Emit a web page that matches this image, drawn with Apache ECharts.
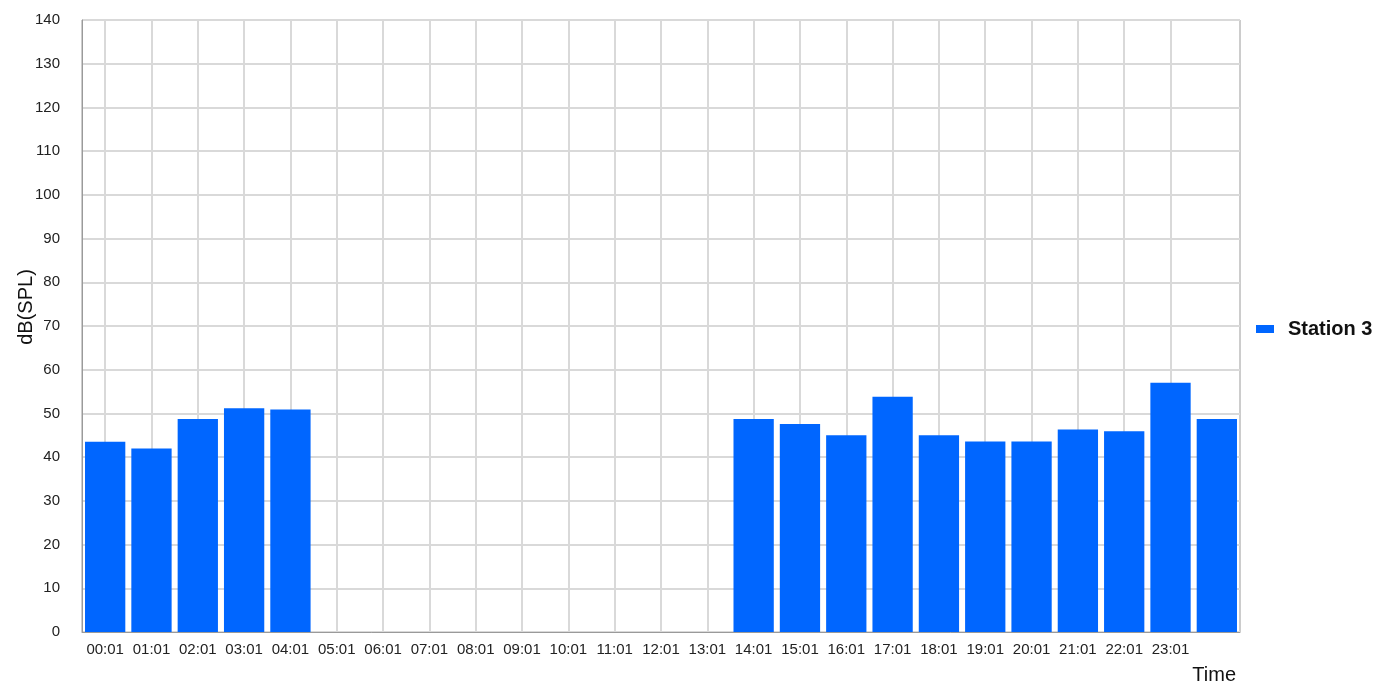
<!DOCTYPE html>
<html>
<head>
<meta charset="utf-8">
<script src="https://cdn.jsdelivr.net/npm/echarts@6/dist/echarts.min.js"></script>
<style>
    html, body { margin: 0; padding: 0; background: #fff; }
    #main { width: 1375px; height: 686px; }
</style>
</head>
<body>
<div id="main"></div>
<script>
// 时间刻度（最后一格没有标签）
var hours = ['00:01', '01:01', '02:01', '03:01', '04:01', '05:01', '06:01', '07:01',
    '08:01', '09:01', '10:01', '11:01', '12:01', '13:01', '14:01', '15:01',
    '16:01', '17:01', '18:01', '19:01', '20:01', '21:01', '22:01', '23:01', '00:01'];
// Station 3 的声压级
var station3 = [43.5, 42.0, 48.7, 51.2, 50.9,
    null, null, null, null, null, null, null, null, null,
    48.7, 47.6, 45.0, 53.8, 45.0, 43.6, 43.6, 46.3, 45.9, 57.0, 48.7];
var yTicks = [0, 140, 10]; // min, max, interval

var font = '"Liberation Sans", Arial, sans-serif';
var chart = echarts.init(document.getElementById('main'));

var option = {
    animation: false,
    textStyle: { fontFamily: font },
    grid: {
        left: 82,
        right: 135,
        top: 20,
        bottom: 54,
        outerBoundsMode: 'none',
        containLabel: false,
        show: true,
        borderColor: '#9a9a9a',
        borderWidth: 1
    },
    legend: {
        orient: 'vertical',
        left: 1251,
        top: 314,
        itemWidth: 18,
        itemHeight: 8,
        icon: 'rect',
        textStyle: {
            fontFamily: font,
            fontSize: 20,
            fontWeight: 'bold',
            color: '#111',
            padding: [0, 0, 0, 9]
        },
        data: ['Station 3']
    },
    xAxis: {
        type: 'category',
        data: hours,
        name: 'Time',
        nameLocation: 'end',
        nameGap: 0,
        nameMoveOverlap: false,
        nameTextStyle: {
            fontFamily: font,
            fontSize: 20,
            color: '#111',
            align: 'right',
            verticalAlign: 'top',
            padding: [33, 4, 0, 0]
        },
        axisLine: { lineStyle: { color: '#9a9a9a' } },
        axisTick: { show: false },
        axisLabel: {
            fontFamily: font,
            fontSize: 15,
            color: '#222',
            margin: 10,
            interval: function (index) { return index < 24; }
        },
        splitLine: {
            show: true,
            alignWithLabel: true,
            lineStyle: { color: '#d9d9d9', width: 2 }
        }
    },
    yAxis: {
        type: 'value',
        min: yTicks[0],
        max: yTicks[1],
        interval: yTicks[2],
        name: 'dB(SPL)',
        nameLocation: 'middle',
        nameGap: 46,
        nameRotate: 90,
        nameMoveOverlap: false,
        nameTextStyle: {
            fontFamily: font,
            fontSize: 20,
            color: '#111',
            padding: [0, 0, 0, 38]
        },
        axisLine: { show: true, lineStyle: { color: '#9a9a9a' } },
        axisTick: { show: false },
        axisLabel: {
            fontFamily: font,
            fontSize: 15,
            color: '#222',
            margin: 22
        },
        splitLine: { lineStyle: { color: '#d9d9d9', width: 2 } }
    },
    series: [{
        name: 'Station 3',
        type: 'bar',
        data: station3,
        barCategoryGap: '13%',
        itemStyle: { color: '#0066ff' }
    }]
};
chart.setOption(option);
</script>
</body>
</html>
